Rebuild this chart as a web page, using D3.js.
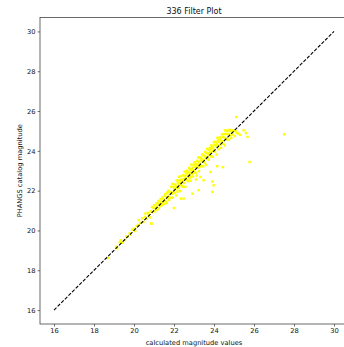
<!DOCTYPE html>
<html>
<head>
<meta charset="utf-8">
<script src="https://cdn.jsdelivr.net/npm/d3@7"></script>
<style>
  html, body { margin: 0; padding: 0; background: #fff; }
  svg { display: block; font-family: "DejaVu Sans", sans-serif; }
</style>
</head>
<body>
<svg id="chart" width="344" height="347"></svg>
<script>
const titleText = "336 Filter Plot";
const xLabel = "calculated magnitude values";
const yLabel = "PHANGS catalog magnitude";
const xTicks = [16, 18, 20, 22, 24, 26, 28, 30];
const yTicks = [16, 18, 20, 22, 24, 26, 28, 30];
const refLine = [16, 30];

// calculated magnitudes (x)
const calculated = [
 18.71,19.10,19.16,19.29,19.33,19.42,19.55,19.61,19.66,19.78,19.84,19.92,19.99,20.06,20.14,20.21,20.24,20.33,20.41,20.47,
 20.55,20.57,20.63,20.69,20.74,20.79,20.84,20.87,20.90,20.93,20.98,21.02,21.05,21.09,21.13,21.16,21.19,21.22,21.24,21.28,
 21.31,21.33,21.36,21.39,21.42,21.44,21.47,21.49,21.52,21.54,21.57,21.59,21.62,21.64,21.66,21.69,21.71,21.73,21.76,21.78,
 21.81,21.83,21.86,21.88,21.91,21.93,21.94,21.97,22.01,22.03,22.04,22.07,22.09,22.11,22.13,22.14,22.17,22.19,22.21,22.23,
 22.25,22.27,22.29,22.31,22.33,22.36,22.37,22.39,22.41,22.43,22.46,22.47,22.49,22.51,22.53,22.55,22.57,22.59,22.61,22.63,
 22.65,22.67,22.69,22.71,22.73,22.76,22.77,22.79,22.81,22.83,22.85,22.87,22.89,22.92,22.93,22.95,22.98,22.99,23.02,23.03,
 23.05,23.08,23.09,23.11,23.13,23.16,23.17,23.19,23.21,23.24,23.25,23.27,23.30,23.31,23.33,23.35,23.38,23.40,23.41,23.43,
 23.46,23.47,23.50,23.52,23.53,23.56,23.58,23.60,23.62,23.63,23.66,23.68,23.70,23.72,23.74,23.76,23.79,23.80,
 23.83,23.85,23.87,23.90,23.92,23.94,23.96,23.99,24.01,24.03,24.05,24.08,24.10,24.12,24.14,24.17,24.19,24.21,24.23,24.26,
 24.28,24.30,24.33,24.35,24.37,24.40,24.42,24.44,24.47,24.49,24.51,24.54,24.56,24.58,24.61,24.63,24.66,24.68,24.71,24.73,
 24.76,24.78,24.81,24.84,24.86,24.89,24.92,24.95,24.99,25.04,25.08,25.15,25.22,25.30,
 25.11,25.48,25.60,25.68,25.78,27.51,23.92,23.92,23.98,24.16,24.45,23.23,22.93,22.48,22.35,22.00,23.48,23.32,23.10,23.82,
 22.82,20.87
];
// PHANGS catalog magnitudes (y), same order
const catalog = [
 18.62,19.18,19.10,19.41,19.51,19.38,19.52,19.70,19.68,19.86,19.79,20.04,20.10,19.97,20.23,20.27,20.52,20.38,20.60,20.42,
 20.68,20.85,20.59,20.88,20.77,20.66,20.97,20.35,21.18,20.91,21.12,21.27,20.96,21.19,21.37,21.04,21.31,21.48,21.11,21.36,
 21.22,21.58,21.45,21.27,21.66,21.41,21.57,21.33,21.74,21.50,21.83,21.45,21.68,21.38,21.90,21.61,22.00,21.74,21.53,21.93,
 21.93,21.65,22.19,21.93,21.84,22.34,21.65,22.19,22.09,21.89,22.31,22.04,22.25,21.76,22.51,22.15,21.95,22.38,22.51,22.13,
 22.70,22.33,21.98,22.55,22.44,22.31,22.73,22.22,22.55,22.45,22.20,22.78,22.58,22.39,22.96,22.73,22.19,22.63,22.87,22.55,
 23.00,22.80,22.48,22.92,22.73,23.15,22.62,23.07,22.88,22.50,23.02,23.31,22.83,23.15,23.03,22.71,23.30,23.02,22.91,23.43,
 23.20,22.89,23.34,23.17,22.76,23.50,23.29,23.15,23.67,23.44,22.98,23.35,23.67,23.22,23.52,23.64,23.22,23.45,23.83,23.57,
 23.23,23.78,23.52,23.74,23.40,23.95,23.68,23.30,23.89,23.70,24.10,23.61,23.88,24.05,23.55,23.80,24.15,23.93,
 24.08,23.73,24.28,23.98,24.22,23.70,24.13,24.44,24.03,24.30,23.96,24.46,24.24,23.81,24.36,24.65,24.25,24.54,24.08,24.45,
 24.68,24.31,24.61,24.15,24.49,24.83,24.49,24.70,24.36,24.84,24.67,24.27,25.03,24.62,24.85,25.00,24.58,24.83,25.02,24.55,
 24.85,25.05,24.77,25.02,24.64,24.95,25.04,24.82,25.02,24.74,24.98,24.90,24.87,24.80,
 25.70,25.03,24.90,24.70,23.44,24.83,21.94,22.46,22.27,23.23,23.18,22.02,21.85,21.60,21.60,21.13,22.52,22.69,22.56,22.94,
 22.69,20.35
];

const svg = d3.select("#chart");
const margin = { left: 40, right: 348, top: 17.5, bottom: 324 };

const x = d3.scaleLinear().domain([15.3, 30.7]).range([margin.left, margin.right]);
const y = d3.scaleLinear().domain([15.3, 30.7]).range([margin.bottom, margin.top]);

const points = calculated.map((c, i) => ({ c, p: catalog[i] }));

// scatter
svg.append("g")
  .selectAll("rect")
  .data(points)
  .join("rect")
  .attr("x", d => x(d.c) - 1.2)
  .attr("y", d => y(d.p) - 1.2)
  .attr("width", 2.4)
  .attr("height", 2.4)
  .attr("fill", "#ffff00");

// 1:1 dashed line
svg.append("line")
  .attr("x1", x(refLine[0])).attr("y1", y(refLine[0]))
  .attr("x2", x(refLine[1])).attr("y2", y(refLine[1]))
  .attr("stroke", "#000")
  .attr("stroke-width", 1.1)
  .attr("stroke-dasharray", "3.5,1.6");

// axes
const fontSize = 6.7;
const xAxis = d3.axisBottom(x).tickValues(xTicks).tickSize(2.4).tickPadding(2).tickFormat(d3.format("d"));
const yAxis = d3.axisLeft(y).tickValues(yTicks).tickSize(2.4).tickPadding(2).tickFormat(d3.format("d"));

const gx = svg.append("g").attr("transform", `translate(0,${margin.bottom})`).call(xAxis);
const gy = svg.append("g").attr("transform", `translate(${margin.left},0)`).call(yAxis);
[gx, gy].forEach(g => {
  g.select(".domain").remove();
  g.selectAll(".tick line").attr("stroke", "#333").attr("stroke-width", 0.7);
  g.selectAll(".tick text").attr("fill", "#111").style("font-size", fontSize + "px").style("font-family", "DejaVu Sans");
});

// spines
const frame = svg.append("g").attr("fill", "none").attr("stroke", "#444").attr("stroke-width", 0.8);
frame.append("rect")
  .attr("x", margin.left).attr("y", margin.top)
  .attr("width", margin.right - margin.left).attr("height", margin.bottom - margin.top);

// title and labels
svg.append("text")
  .attr("x", (margin.left + margin.right) / 2).attr("y", 13.5)
  .attr("text-anchor", "middle").attr("fill", "#111")
  .style("font-size", "8px")
  .text(titleText);

svg.append("text")
  .attr("x", (margin.left + margin.right) / 2).attr("y", 344.5)
  .attr("text-anchor", "middle").attr("fill", "#111")
  .style("font-size", fontSize + "px")
  .text(xLabel);

svg.append("text")
  .attr("transform", `translate(21.5,${(margin.top + margin.bottom) / 2}) rotate(-90)`)
  .attr("text-anchor", "middle").attr("fill", "#111")
  .style("font-size", fontSize + "px")
  .text(yLabel);
</script>
</body>
</html>
